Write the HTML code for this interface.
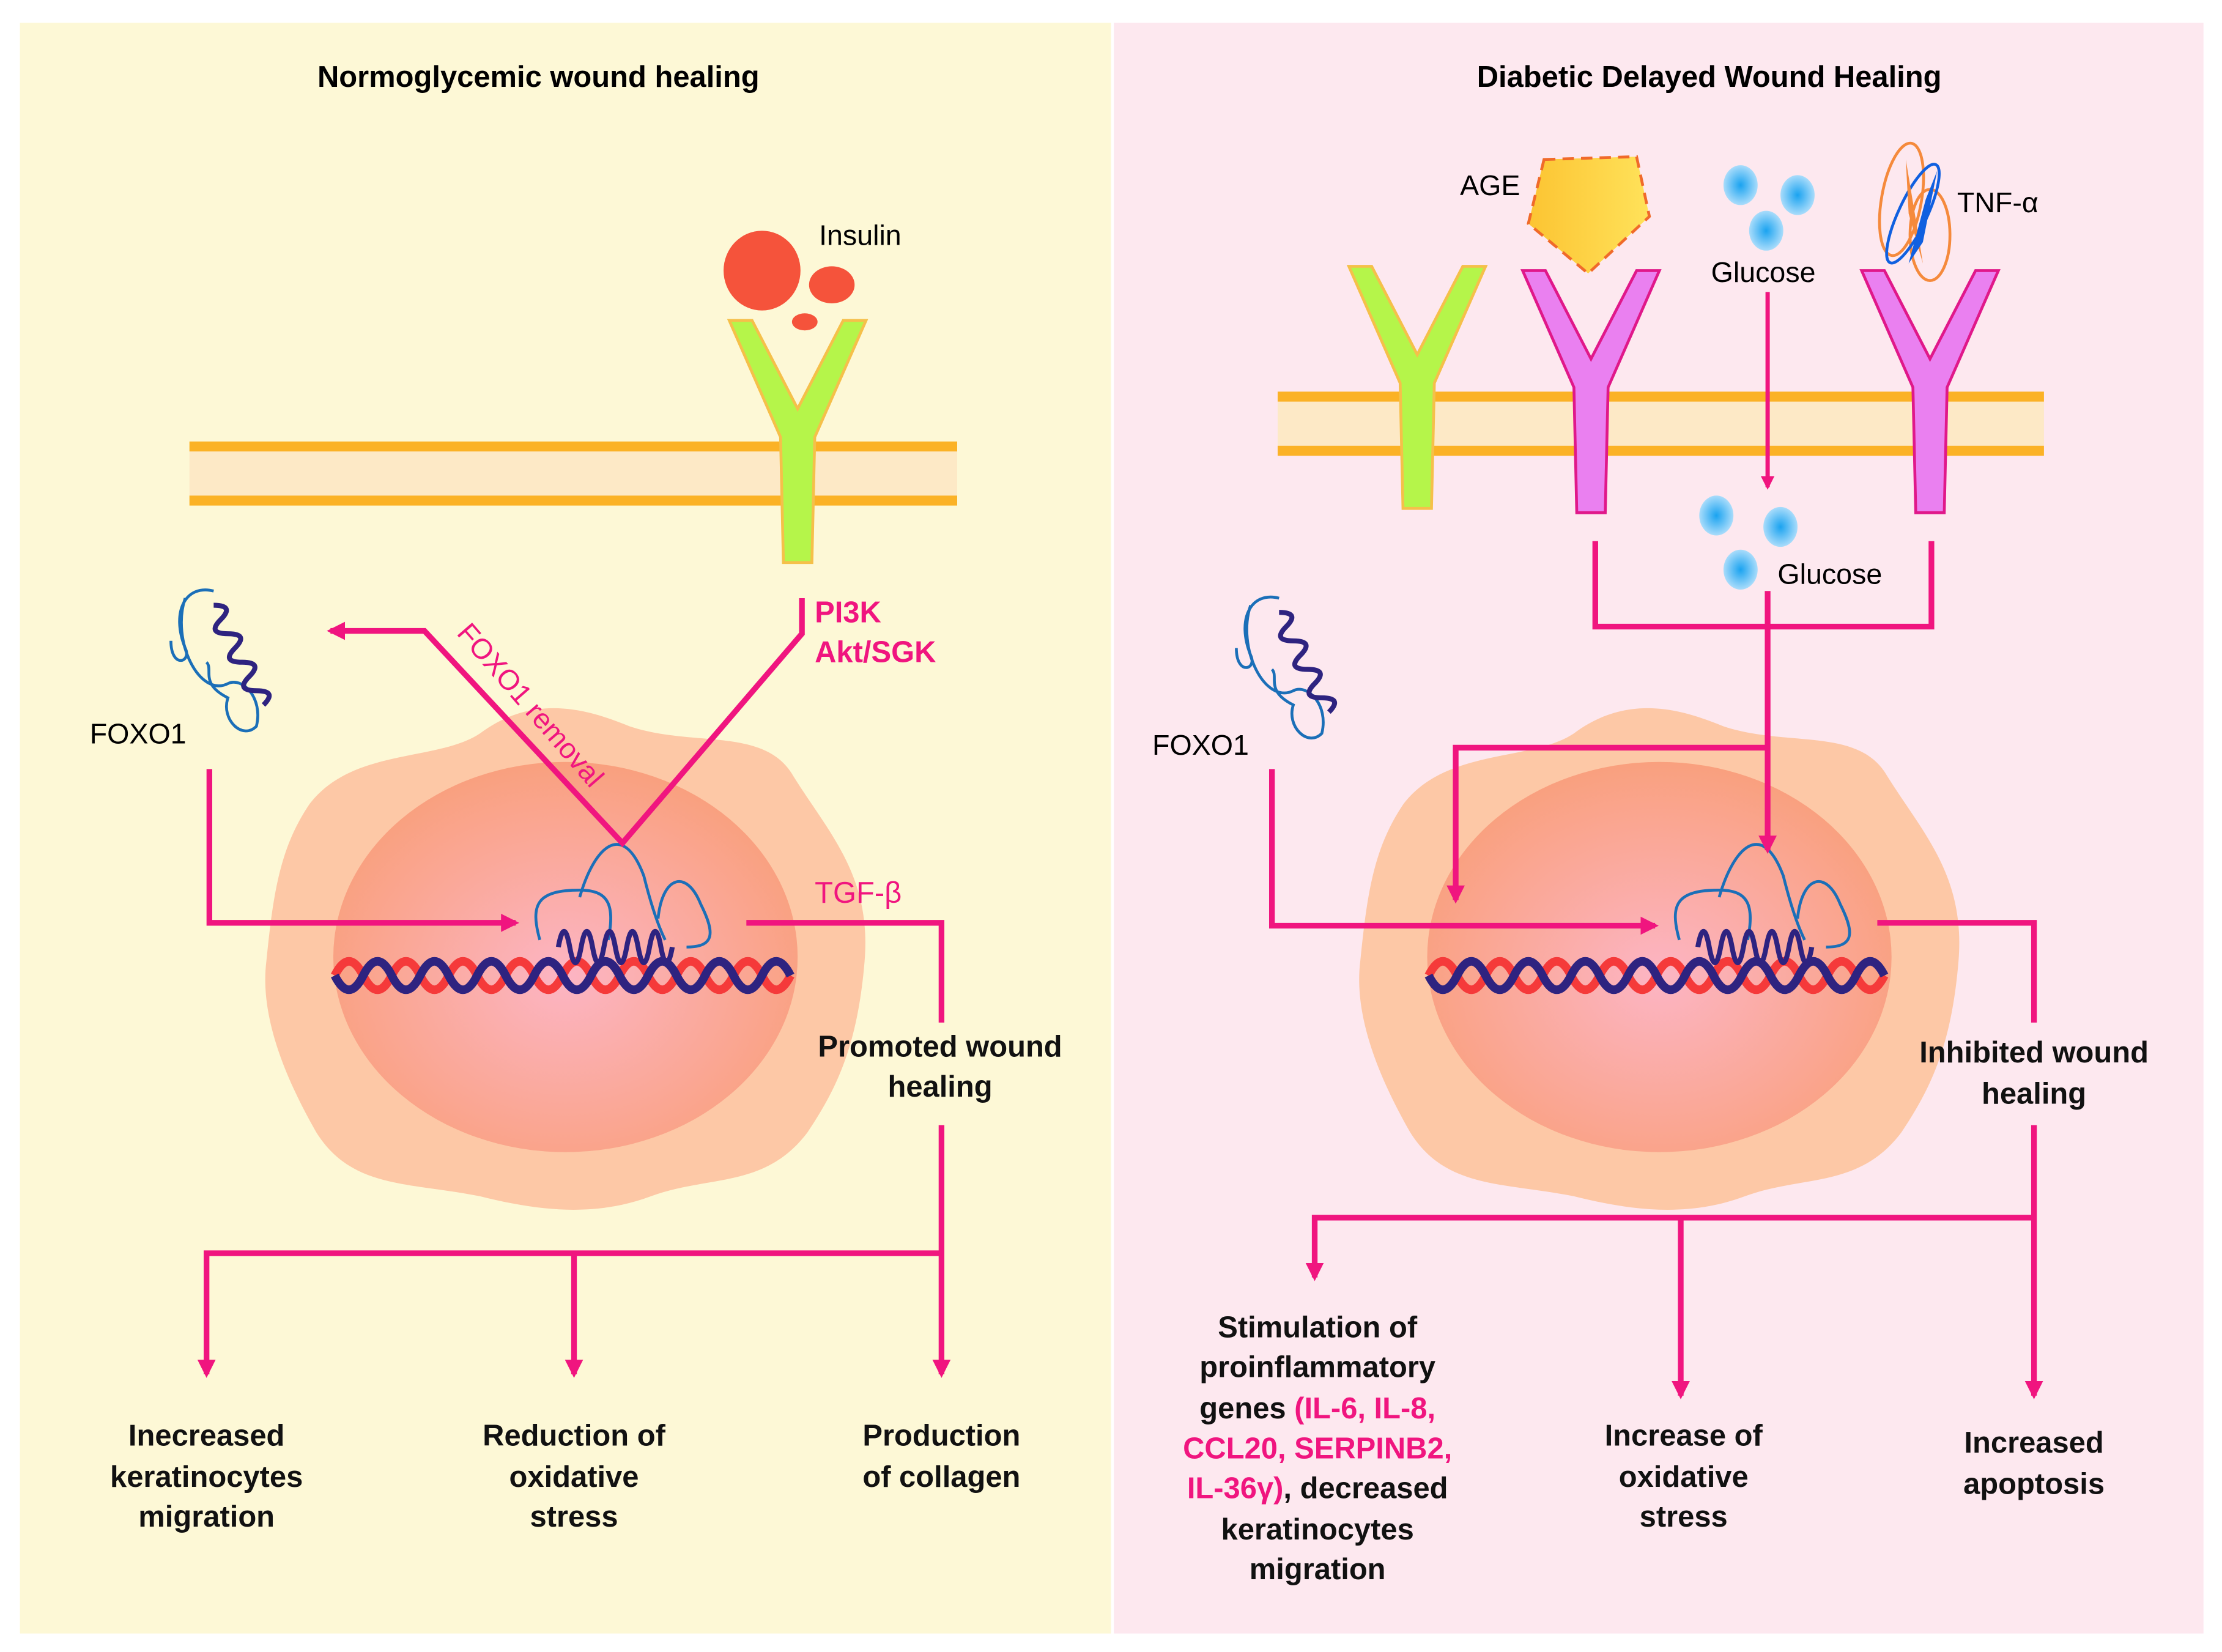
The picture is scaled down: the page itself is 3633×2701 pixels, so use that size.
<!DOCTYPE html>
<html><head><meta charset="utf-8"><style>html,body{margin:0;padding:0;background:#fff}svg{display:block}text{font-family:"Liberation Sans",sans-serif}</style></head><body>
<svg width="3633" height="2701" viewBox="0 0 1560 1160" preserveAspectRatio="none" xmlns="http://www.w3.org/2000/svg">
<defs>
<radialGradient id="nuc" cx="0.5" cy="0.55" r="0.55"><stop offset="0" stop-color="#fcb5c4"/><stop offset="1" stop-color="#f9a07e"/></radialGradient>
<radialGradient id="glc"><stop offset="0" stop-color="#1aa3f0"/><stop offset="1" stop-color="#a9dcfb"/></radialGradient>
<linearGradient id="age" x1="0" x2="1"><stop offset="0" stop-color="#fcc432"/><stop offset="1" stop-color="#ffe25a"/></linearGradient>
<marker id="ar" viewBox="0 0 10 10" refX="8" refY="5" markerWidth="3.2" markerHeight="3.2" orient="auto"><path d="M0,0L10,5L0,10z" fill="#f0157f"/></marker>
<g id="dna"><path d="M0,0 q10,-20 20,0 t20,0 t20,0 t20,0 t20,0 t20,0 t20,0 t20,0 t20,0 t20,0 t20,0 t20,0 t20,0 t20,0 t20,0 t20,0" fill="none" stroke="#f53a3a" stroke-width="6"/><path d="M0,0 q10,20 20,0 t20,0 t20,0 t20,0 t20,0 t20,0 t20,0 t20,0 t20,0 t20,0 t20,0 t20,0 t20,0 t20,0 t20,0 t20,0" fill="none" stroke="#2e2380" stroke-width="6"/></g>
<g id="cell"><path d="M-180,-110 C-150,-150 -90,-140 -60,-160 C-20,-190 20,-175 45,-165 C90,-150 140,-165 160,-130 C185,-90 215,-60 210,0 C205,60 190,90 170,120 C140,160 100,150 60,165 C20,180 -20,175 -60,165 C-110,155 -150,160 -175,120 C-195,85 -215,40 -210,0 C-205,-50 -200,-80 -180,-110Z" fill="#fdc8a6"/><ellipse cx="0" cy="-3" rx="163" ry="137" fill="url(#nuc)"/><use href="#dna" x="-162" y="10"/></g>
<g id="prot" fill="none" stroke-width="2"><path d="M-58,-5 C-65,-30 -60,-40 -30,-40 C-10,-40 -5,-30 -10,-5" stroke="#1b6fb8"/><path d="M-30,-35 C-20,-70 0,-90 15,-50 C20,-30 25,-15 30,-5" stroke="#1b6fb8"/><path d="M25,-20 C28,-50 45,-55 55,-30 C65,-10 65,0 45,0" stroke="#1b6fb8"/><path d="M-45,0 q4,-22 8,0 t8,0 t8,0 t8,0 t8,0 t8,0 t8,0 t8,0 t8,0 t8,0" stroke="#2e2380" stroke-width="3.5"/></g>
<g id="foxo" fill="none" stroke-width="2"><path d="M20,5 C0,0 -10,20 0,45 C5,55 -10,60 -10,40" stroke="#1b6fb8"/><path d="M0,10 C-10,40 10,80 30,70 C40,65 55,80 50,100 C40,110 25,95 30,80 C10,70 20,60 15,55" stroke="#1b6fb8"/><path d="M20,15 q15,0 5,10 t5,10 t5,10 t5,10 t5,10 t5,10 t5,10" stroke="#2e2380" stroke-width="3.5"/></g>
<path id="yl" d="M-48,0 L-32,0 L0,62 L32,0 L48,0 L12,82 L10,170 L-10,170 L-12,82Z"/>
<g id="gl"><ellipse rx="12" ry="14" fill="url(#glc)"/></g>
</defs>
<rect width="1560" height="1160" fill="#fff"/>
<rect x="14" y="16" width="766" height="1131" fill="#fdf8d6"/>
<rect x="782" y="16" width="765" height="1131" fill="#fde8ef"/>
<text x="378" y="61" font-size="21" font-weight="bold" text-anchor="middle">Normoglycemic wound healing</text>
<text x="1200" y="61" font-size="21" font-weight="bold" text-anchor="middle">Diabetic Delayed Wound Healing</text>
<!-- left membrane -->
<rect x="133" y="313" width="539" height="39" fill="#fde9c6"/>
<rect x="133" y="310" width="539" height="7" fill="#fbb226"/><rect x="133" y="348" width="539" height="7" fill="#fbb226"/>
<use href="#yl" x="560" y="225" fill="#b5f54a" stroke="#f5c04a" stroke-width="2"/>
<ellipse cx="535" cy="190" rx="27" ry="28" fill="#f5533b"/><ellipse cx="584" cy="200" rx="16" ry="13" fill="#f5533b"/><ellipse cx="565" cy="226" rx="9" ry="6" fill="#f5533b"/>
<text x="575" y="172" font-size="20">Insulin</text>
<!-- right membrane -->
<rect x="897" y="278" width="538" height="39" fill="#fde9c6"/>
<rect x="897" y="275" width="538" height="7" fill="#fbb226"/><rect x="897" y="313" width="538" height="7" fill="#fbb226"/>
<use href="#yl" x="995" y="187" fill="#b5f54a" stroke="#f5c04a" stroke-width="2"/>
<use href="#yl" x="1117" y="190" fill="#ea80f0" stroke="#e0188a" stroke-width="2"/>
<use href="#yl" x="1355" y="190" fill="#ea80f0" stroke="#e0188a" stroke-width="2"/>
<path d="M1084,112 L1149,110 L1158,152 L1115,192 L1073,157Z" fill="url(#age)" stroke="#f06a2a" stroke-width="2" stroke-dasharray="8,5"/>
<text x="1025" y="137" font-size="20">AGE</text>
<use href="#gl" x="1222" y="130"/><use href="#gl" x="1262" y="137"/><use href="#gl" x="1240" y="162"/>
<use href="#gl" x="1205" y="362"/><use href="#gl" x="1250" y="370"/><use href="#gl" x="1222" y="400"/>
<text x="1238" y="198" font-size="20" text-anchor="middle">Glucose</text>
<text x="1248" y="410" font-size="20">Glucose</text>
<g fill="none" stroke-width="2"><ellipse cx="1335" cy="140" rx="14" ry="40" stroke="#f58a3c" transform="rotate(10 1335 140)"/><ellipse cx="1355" cy="165" rx="14" ry="32" stroke="#f58a3c"/><ellipse cx="1343" cy="150" rx="10" ry="38" stroke="#1060e0" transform="rotate(25 1343 150)"/></g>
<path d="M1338,112 L1346,160 L1350,185 L1340,150Z" fill="#f58a3c"/><path d="M1360,120 L1350,170 L1340,185 L1352,140Z" fill="#1060e0"/>
<text x="1374" y="149" font-size="20">TNF-α</text>
<!-- cells -->
<use href="#cell" x="397" y="675"/>
<use href="#cell" x="1165" y="675"/>
<use href="#prot" x="437" y="665"/>
<use href="#prot" x="1237" y="665"/>
<use href="#foxo" x="130" y="410"/>
<use href="#foxo" x="878" y="415"/>
<text x="63" y="522" font-size="20">FOXO1</text>
<text x="809" y="530" font-size="20">FOXO1</text>
<!-- left connectors -->
<g fill="none" stroke="#f0157f" stroke-width="4">
<path d="M563,420 L563,445 L437,592 L298,443 L232,443" marker-end="url(#ar)"/>
<path d="M147,540 L147,648 L362,648" marker-end="url(#ar)"/>
<path d="M524,648 L661,648 L661,718"/>
<path d="M661,790 L661,965" marker-end="url(#ar)"/>
<path d="M661,880 L145,880 L145,965" marker-end="url(#ar)"/>
<path d="M403,880 L403,965" marker-end="url(#ar)"/>
<!-- right -->
<path d="M1241,205 L1241,342" stroke-width="3" marker-end="url(#ar)"/>
<path d="M1120,380 L1120,440 L1356,440 L1356,380"/>
<path d="M1241,415 L1241,597" marker-end="url(#ar)"/>
<path d="M1241,525 L1022,525 L1022,632" marker-end="url(#ar)"/>
<path d="M893,540 L893,650 L1162,650" marker-end="url(#ar)"/>
<path d="M1318,648 L1428,648 L1428,718"/>
<path d="M1428,790 L1428,980" marker-end="url(#ar)"/>
<path d="M1428,855 L923,855 L923,897" marker-end="url(#ar)"/>
<path d="M1180,855 L1180,980" marker-end="url(#ar)"/>
</g>
<text transform="translate(320,445) rotate(49)" font-size="20" fill="#f0157f">FOXO1 removal</text>
<g font-size="21" font-weight="bold" fill="#f0157f"><text x="572" y="437">PI3K</text><text x="572" y="465">Akt/SGK</text><text x="572" y="634" font-weight="normal">TGF-β</text></g>
<g font-size="21" font-weight="bold" text-anchor="middle" fill="#111">
<text x="660" y="742">Promoted wound</text><text x="660" y="770">healing</text>
<text x="1428" y="746">Inhibited wound</text><text x="1428" y="775">healing</text>
<text x="145" y="1015">Inecreased</text><text x="145" y="1044">keratinocytes</text><text x="145" y="1072">migration</text>
<text x="403" y="1015">Reduction of</text><text x="403" y="1044">oxidative</text><text x="403" y="1072">stress</text>
<text x="661" y="1015">Production</text><text x="661" y="1044">of collagen</text>
<text x="925" y="939">Stimulation of</text><text x="925" y="967">proinflammatory</text>
<text x="925" y="996">genes <tspan fill="#f0157f">(IL-6, IL-8,</tspan></text>
<text x="925" y="1024" fill="#f0157f">CCL20, SERPINB2,</text>
<text x="925" y="1052"><tspan fill="#f0157f">IL-36γ)</tspan>, decreased</text>
<text x="925" y="1081">keratinocytes</text><text x="925" y="1109">migration</text>
<text x="1182" y="1015">Increase of</text><text x="1182" y="1044">oxidative</text><text x="1182" y="1072">stress</text>
<text x="1428" y="1020">Increased</text><text x="1428" y="1049">apoptosis</text>
</g>
</svg>
</body></html>
